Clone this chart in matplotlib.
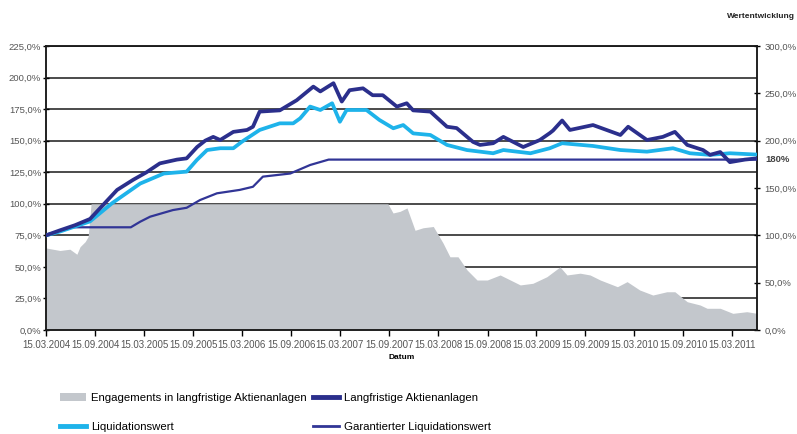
import numpy as np
import pandas as pd
import matplotlib
matplotlib.use("Agg")
import matplotlib.pyplot as plt
import matplotlib.dates as mdates
from matplotlib.patches import Patch
from matplotlib.lines import Line2D
from matplotlib.ticker import FuncFormatter

plt.rcParams['font.family'] = ['Liberation Sans', 'DejaVu Sans']

# Langfristige Aktienanlagen (right axis, %)
dark_dates = ["2004-03-15", "2004-05-06", "2004-07-01", "2004-08-26", "2004-12-05", "2005-02-03",
              "2005-03-25", "2005-05-13", "2005-07-16", "2005-08-21", "2005-09-29", "2005-10-29",
              "2005-11-28", "2005-12-24", "2006-02-11", "2006-04-03", "2006-04-25", "2006-05-20",
              "2006-08-03", "2006-10-05", "2006-12-06", "2007-01-01", "2007-02-19", "2007-03-22",
              "2007-04-20", "2007-06-09", "2007-07-15", "2007-08-22", "2007-10-13", "2007-11-19",
              "2007-12-13", "2008-02-15", "2008-04-17", "2008-05-23", "2008-07-23", "2008-08-18",
              "2008-10-06", "2008-11-13", "2009-01-26", "2009-03-29", "2009-05-05", "2009-05-17",
              "2009-06-20", "2009-07-19", "2009-10-13", "2010-01-23", "2010-02-21", "2010-05-02",
              "2010-06-30", "2010-08-14", "2010-09-29", "2010-11-27", "2010-12-23", "2011-01-30",
              "2011-03-07", "2011-05-02", "2011-06-16"]
dark_vals = [100, 105.3, 110.7, 117.3, 148, 158.7, 166.7, 176, 180, 181.3,
             193.3, 200, 204, 200.7, 209.3, 211.3, 214.7, 230.7, 232, 242.7,
             257.1, 252, 260.7, 241.3, 253.3, 255.3, 248, 248, 236, 239.5,
             232, 230.7, 214.7, 213.3, 198.7, 195.5, 197.3, 204, 193.3, 200.7,
             208, 210.7, 221.3, 211.3, 216.5, 206, 214.7, 200.7, 204, 209.3,
             195.5, 190.1, 185, 188, 177.3, 180, 181.3]

# Liquidationswert (right axis, %)
light_dates = ["2004-03-15", "2004-05-06", "2004-08-26", "2004-11-16", "2005-03-01", "2005-05-28",
               "2005-08-21", "2005-09-28", "2005-11-05", "2005-12-24", "2006-02-11", "2006-03-14",
               "2006-05-20", "2006-08-03", "2006-09-22", "2006-10-18", "2006-11-24", "2007-01-01",
               "2007-02-14", "2007-03-15", "2007-04-09", "2007-06-22", "2007-08-09", "2007-09-30",
               "2007-11-06", "2007-12-13", "2008-02-15", "2008-04-17", "2008-06-30", "2008-10-06",
               "2008-11-13", "2009-02-22", "2009-05-05", "2009-06-20", "2009-10-13", "2010-01-23",
               "2010-05-02", "2010-08-07", "2010-10-09", "2010-12-23", "2011-03-07", "2011-06-16"]
light_vals = [100, 104, 114.7, 133.9, 154.7, 165.3, 167.3, 179.6, 190.1, 192,
              192, 198.7, 211.3, 218.3, 218.3, 223.6, 236, 232.4, 239.5, 220,
              232.4, 232.4, 221.9, 213.1, 216.5, 207.7, 206, 195.5, 190.1, 186.7,
              190.1, 186.7, 192, 197.3, 194.4, 190.1, 188.4, 192, 186.7, 185,
              186.7, 185.3]

# Garantierter Liquidationswert (right axis, %)
guar_dates = ["2004-03-15", "2004-06-24", "2005-01-25", "2005-03-01", "2005-04-07", "2005-07-01",
              "2005-08-21", "2005-10-10", "2005-12-12", "2006-03-07", "2006-04-25", "2006-06-01",
              "2006-09-11", "2006-11-24", "2007-02-01", "2011-06-16"]
guar_vals = [100, 108.5, 108.5, 114.4, 119.7, 126.7, 129.1, 137.3,
             144.4, 148, 151.3, 162, 165.3, 174.3, 180, 180]

# Engagements in langfristige Aktienanlagen (left axis, %)
eng_dates = ["2004-03-15", "2004-05-06", "2004-06-12", "2004-07-08", "2004-07-20", "2004-08-08",
             "2004-08-19", "2004-08-30", "2007-09-10", "2007-09-29", "2007-10-25", "2007-11-20",
             "2007-12-20", "2008-01-19", "2008-02-26", "2008-04-02", "2008-04-28", "2008-05-28",
             "2008-07-01", "2008-08-07", "2008-09-14", "2008-11-01", "2008-12-09", "2009-01-15",
             "2009-03-03", "2009-04-24", "2009-06-12", "2009-07-08", "2009-08-26", "2009-10-02",
             "2009-11-09", "2010-01-12", "2010-02-17", "2010-04-05", "2010-05-24", "2010-07-15",
             "2010-08-14", "2010-09-29", "2010-11-16", "2010-12-12", "2011-01-30", "2011-03-18",
             "2011-05-09", "2011-06-16"]
eng_vals = [65, 63, 64, 60, 66, 70,
            74, 100, 100, 92.7, 94, 96.7,
            79, 81, 82, 69, 58, 58,
            47.5, 39.6, 39.6, 43.6, 39.6, 35.7,
            37, 42.2, 50, 43.6, 45, 43.6,
            39.6, 34.3, 38.3, 31.7, 27.7, 30.3,
            30.3, 22.4, 19.8, 17.2, 17.2, 13.2,
            14.5, 13.2]

left_ticks = [0, 25, 50, 75, 100, 125, 150, 175, 200, 225]
right_ticks = [0, 50, 100, 150, 200, 250, 300]
x_ticks = [f"{y}-{m}-15" for y in range(2004, 2012) for m in ("03", "09")][:-1]

c_area = "#c3c7cc"
c_dark = "#2b2f8c"
c_light = "#1eb3ea"
c_guar = "#313596"

fig = plt.figure(figsize=(7.97, 4.34), dpi=100)
ax = fig.add_axes([46 / 797, 1 - 330 / 434, (757 - 46) / 797, (330 - 46) / 434])
ax2 = ax.twinx()

ax.set_axisbelow(True)
ax.yaxis.grid(True, color="#1a1a1a", linewidth=1.1)
ax.fill_between(pd.to_datetime(eng_dates), eng_vals, 0, color=c_area, linewidth=0, zorder=2)

ax2.plot(pd.to_datetime(guar_dates), guar_vals, color=c_guar, lw=1.6, zorder=3)
ax2.plot(pd.to_datetime(light_dates), light_vals, color=c_light, lw=2.7, zorder=4)
ax2.plot(pd.to_datetime(dark_dates), dark_vals, color=c_dark, lw=2.7, zorder=5)

xmin, xmax = pd.Timestamp("2004-03-15"), pd.Timestamp("2011-06-16")
ax.set_xlim(xmin, xmax)
ax.set_ylim(0, 225)
ax2.set_ylim(0, 300)

ax.set_yticks(left_ticks)
ax.yaxis.set_major_formatter(FuncFormatter(lambda v, p: f"{v:.1f}%".replace(".", ",")))
ax2.set_yticks(right_ticks)
ax2.yaxis.set_major_formatter(FuncFormatter(lambda v, p: f"{v:.1f}%".replace(".", ",")))

ax.set_xticks(pd.to_datetime(x_ticks))
ax.xaxis.set_major_formatter(mdates.DateFormatter("%d.%m.%Y"))

for a in (ax, ax2):
    for s in a.spines.values():
        s.set_color("#1a1a1a")
        s.set_linewidth(1.1)
ax.tick_params(axis="y", direction="inout", length=5, width=1, labelsize=6.8,
               labelcolor="#555555", pad=1)
ax2.tick_params(axis="y", direction="inout", length=5, width=1, labelsize=6.8,
                labelcolor="#555555", pad=3)
ax.tick_params(axis="x", direction="out", length=4, width=1, labelsize=7,
               labelcolor="#555555", pad=3)

ax.set_xlabel("Datum", fontsize=6, fontweight="bold", labelpad=3)

ax2.text(1.012, 180, "180%", transform=ax2.get_yaxis_transform(), fontsize=6.8,
         fontweight="bold", color="#444444", va="center", ha="left")
fig.text(795 / 797, 1 - 17 / 434, "Wertentwicklung", fontsize=6, fontweight="bold",
         ha="right", va="center", color="#222222")

handles = [Patch(facecolor=c_area, edgecolor="none"),
           Line2D([], [], color=c_light, lw=3.5),
           Line2D([], [], color=c_dark, lw=3.5),
           Line2D([], [], color=c_guar, lw=2)]
labels = ["Engagements in langfristige Aktienanlagen", "Liquidationswert",
          "Langfristige Aktienanlagen", "Garantierter Liquidationswert"]
fig.legend(handles, labels, loc="upper left", bbox_to_anchor=(60 / 797, 1 - 393 / 434),
           ncol=2, frameon=False, handlelength=2.3, handleheight=0.6,
           handletextpad=0.4, columnspacing=0.6, labelspacing=1.65, borderaxespad=0,
           borderpad=0, prop={"size": 8.2})

fig.savefig("out.png", dpi=100)
